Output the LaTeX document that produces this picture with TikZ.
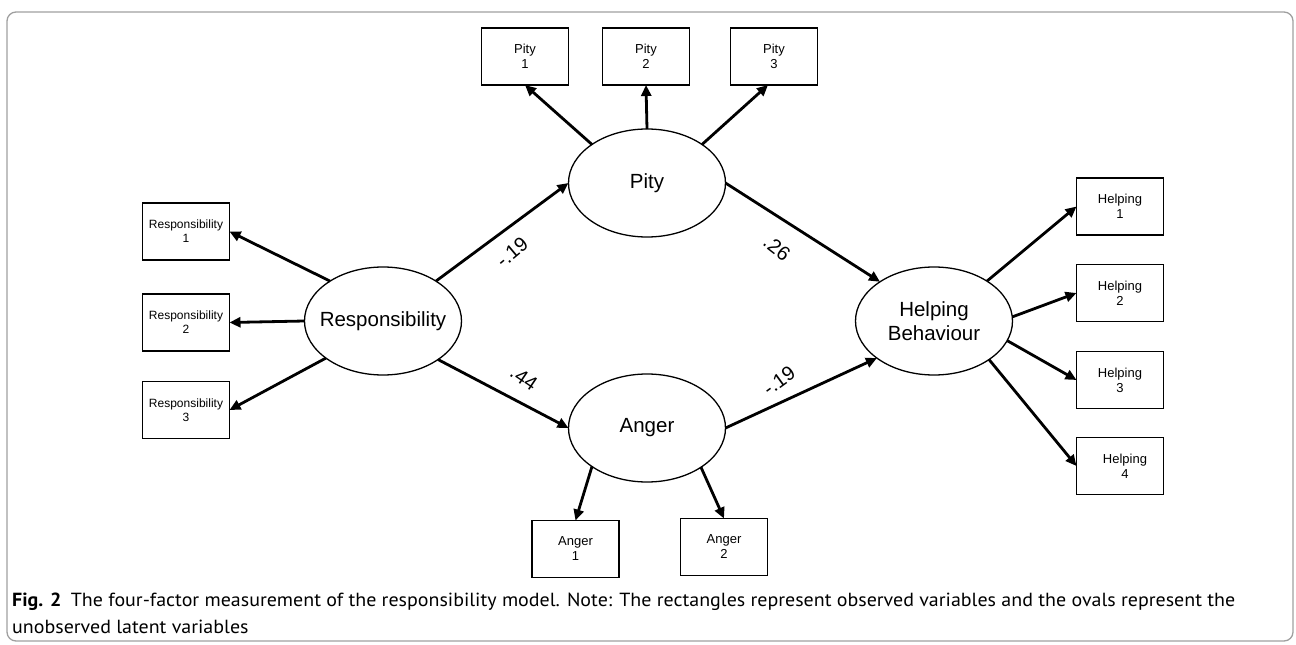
\documentclass[tikz,border=0pt]{standalone}
\usepackage{fontspec}
\setmainfont{Liberation Sans}
\newfontfamily\capfont{PT Sans}
\usetikzlibrary{shapes.geometric,arrows.meta}
\newsavebox\capone
\newsavebox\captwo
\newlength\capw
\begin{document}
\sbox\capone{\capfont\fontsize{19}{22}\selectfont\textbf{Fig. 2}\hspace{9pt}The four-factor measurement of the responsibility model. Note: The rectangles represent observed variables and the ovals represent the}%
\sbox\captwo{\capfont\fontsize{19}{22}\selectfont unobserved latent variables}%
\setlength\capw{\wd\capone}%
\pgfmathsetmacro\capsc{1223/\capw}%
\begin{tikzpicture}[x=1pt,y=-1pt,
  latent/.style={draw, ellipse, line width=1.3pt, minimum width=157pt, minimum height=108pt, inner sep=0pt, outer sep=0pt},
  obs/.style={draw, rectangle, line width=1.5pt, minimum width=87pt, minimum height=57pt, inner sep=0pt, outer sep=0pt, align=center, font=\fontsize{13}{15}\selectfont},
  obssm/.style={obs, font=\fontsize{12}{14}\selectfont},
  arr/.style={line width=2.8pt, -{Triangle[length=11pt,width=10pt]}},
  coef/.style={font=\fontsize{20}{20}\selectfont, inner sep=0pt},
  bigtext/.style={font=\fontsize{20.5}{24}\selectfont, align=center, inner sep=0pt}
]
\useasboundingbox (0,0) rectangle (1296,645);
\draw[gray!75, line width=1.3pt, rounded corners=9pt] (7,12) rectangle (1293,641);

% latent variables
\node[latent] (resp) at (383,321) {};
\node[bigtext] (resptxt) at (resp) {Responsibility};
\node[latent] (pity) at (647,183) {};
\node[bigtext] (pitytxt) at (pity) {Pity};
\node[latent] (anger) at (647,428) {};
\node[bigtext] (angertxt) at (anger) {Anger};
\node[latent] (help) at (934,321) {};
\node[bigtext] (helptxt) at (help) {Helping\\Behaviour};

% observed variables
\node[obssm] (r1) at (186,231.5) {Responsibility\\1};
\node[obssm] (r2) at (186,322.5) {Responsibility\\2};
\node[obssm] (r3) at (186,410) {Responsibility\\3};
\node[obs] (p1) at (525,56.5) {Pity\\1};
\node[obs] (p2) at (646,56.5) {Pity\\2};
\node[obs] (p3) at (774,56.5) {Pity\\3};
\node[obs] (a1) at (575.5,549) {Anger\\1};
\node[obs] (a2) at (724,547) {Anger\\2};
\node[obs] (h1) at (1120,206.5) {Helping\\1};
\node[obs] (h2) at (1120,293) {Helping\\2};
\node[obs] (h3) at (1120,380) {Helping\\3};
\node[obs] (h4) at (1120,466) {\hspace*{10pt}Helping\\\hspace*{10pt}4};

% connectors
\draw[arr] (resp.143.8) -- (r1.east);
\draw[arr] (resp.west) -- (r2.east);
\draw[arr] (resp.213.5) -- (r3.east);
\draw[arr] (resp.37.2) -- (pity.west);
\draw[arr] (resp.325.6) -- (anger.west);
\draw[arr] (pity.east) -- (help.144.3);
\draw[arr] (anger.east) -- (help.213);
\draw[arr] (help.37.2) -- (h1.west);
\draw[arr] (help.3) -- (h2.west);
\draw[arr] (help.345.8) -- (h3.west);
\draw[arr] (help.325.6) -- (h4.west);
\draw[arr] (pity.145) -- (p1.south);
\draw[arr] (pity.north) -- (p2.south);
\draw[arr] (pity.35) -- ([xshift=-6pt]p3.south);
\draw[arr] (anger.215) -- (a1.north);
\draw[arr] (anger.324.5) -- (a2.north);

% coefficients
\node[coef, rotate=40] (c1) at (512,252) {-.19};
\node[coef, rotate=-34] (c2) at (524,378) {.44};
\node[coef, rotate=-38] (c3) at (777,248) {.26};
\node[coef, rotate=36] (c4) at (779,381) {-.19};

% caption
\node[anchor=base west, inner sep=0pt] (cap1) at (12,606) {\scalebox{\capsc}[1]{\usebox\capone}};
\node[anchor=base west, inner sep=0pt] (cap2) at (12,633) {\scalebox{\capsc}[1]{\usebox\captwo}};
\end{tikzpicture}
\end{document}
